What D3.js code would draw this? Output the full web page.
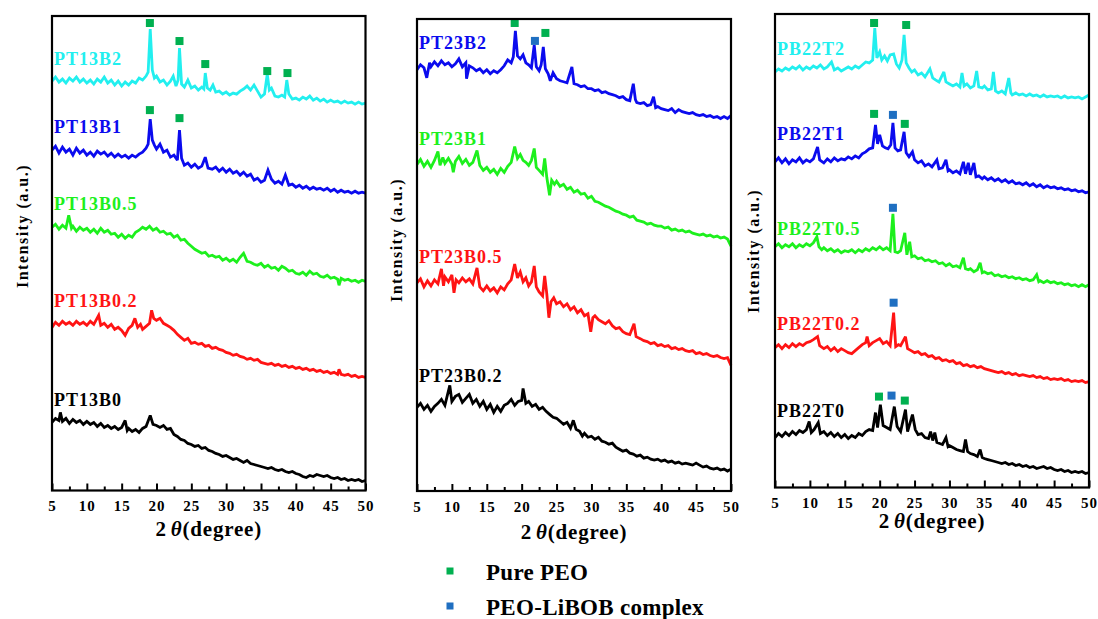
<!DOCTYPE html>
<html>
<head>
<meta charset="utf-8">
<script src="https://cdn.jsdelivr.net/npm/d3@7"></script>
<style>
  body { margin: 0; background: #fff; }
  text { font-family: "Liberation Serif", "Times New Roman", serif; font-weight: bold; }
</style>
</head>
<body>
<svg id="chart" width="1098" height="619"></svg>
<script>
// ---- XRD patterns: flat lists of (2θ, intensity a.u.) pairs ----
const PT13B2 = [5,409,5.5,413,6,408,6.5,411,7,407,7.5,412,8,409,8.5,413,9,408,9.5,411,10,407,10.5,410,11,406,11.5,411,12,408,12.5,413,13,407,13.5,410,14,405,14.5,409,15,404,15.5,408,16,405,16.5,409,17,407,17.5,412,18,410,18.5,414,18.8,418,19.1,461,19.4,420,19.7,412,20,414,20.5,408,21,410,21.5,405,22,409,22.4,414,22.8,404,23.1,410,23.3,442,23.6,406,24,403,24.5,410,25,402,25.5,404,26,400,26.5,403,26.8,401,27,417,27.3,402,27.7,400,28.1,405,28.5,398,29,399,29.5,396,30,398,30.5,395,31,397,31.5,396,32,399,32.5,401,33,404,33.5,400,34,405,34.5,399,35,393,35.5,396,35.9,416,36.2,400,36.5,402,37,394,37.5,393,38,395,38.4,393,38.7,410,39,396,39.5,391,40,392,40.5,390,41,393,41.5,391,42,394,42.5,390,43,392,43.5,389,44,391,44.5,388,45,390,45.5,388,46,389,46.5,387,47,389,47.5,387,48,388,48.5,386,49,388,49.5,386,50,387];
const PT13B1 = [5,340,5.5,344,6,337,6.5,343,7,338,7.5,341,8,335,8.5,342,9,337,9.5,340,10,335,10.5,338,11,334,11.5,339,12,336,12.5,338,13,334,13.5,337,14,333,14.5,336,15,333,15.5,335,16,332,16.5,335,17,333,17.5,336,18,338,18.5,342,18.8,346,19.1,371,19.4,350,19.7,345,20,341,20.5,346,21,338,21.5,340,22,333,22.5,335,23,330,23.3,360,23.6,332,24,325,24.5,327,25,323,25.5,326,26,322,26.5,324,27,333,27.4,322,28,321,28.5,323,29,319,29.5,322,30,318,30.5,321,31,317,31.5,319,32,315,32.5,318,33,314,33.5,316,34,310,34.5,312,35,308,35.5,310,36,320,36.5,311,37,307,37.5,309,38,306,38.5,315,39,305,39.5,306,40,303,40.5,305,41,302,41.5,304,42,301,42.5,303,43,301,43.5,302,44,300,44.5,302,45,299,45.5,301,46,298,46.5,300,47,298,47.5,299,48,297,48.5,299,49,297,49.5,298,50,297];
const PT13B05 = [5,263,5.5,266,6,261,6.5,265,7,262,7.4,275,7.8,262,8,264,8.5,259,9,263,9.5,260,10,262,10.5,258,11,261,11.5,257,12,262,12.5,258,13,260,13.5,256,14,257,14.5,253,15,256,15.5,252,16,255,16.5,253,17,258,17.5,260,18,263,18.5,261,19,264,19.5,260,20,262,20.5,258,21,259,21.5,256,22,257,22.5,253,23,255,23.5,250,24,251,24.5,247,25,244,25.5,241,26,239,26.5,237,27,238,27.5,234,28,235,28.5,233,29,234,29.5,230,30,232,30.5,229,31,231,31.5,228,32,233,32.5,237,33,229,33.5,228,34,226,34.5,225,35,227,35.5,223,36,225,36.5,222,37,223,37.5,220,38,224,38.5,222,39,219,39.5,220,40,217,40.5,216,41,218,41.5,215,42,219,42.5,216,43,217,43.5,214,44,213,44.5,215,45,212,45.5,213,46,211,46.2,205,46.5,212,47,210,47.5,211,48,209,48.5,210,49,208,49.5,210,50,209];
const PT13B02 = [5,163,5.5,168,6,165,6.5,169,7,166,7.5,168,8,165,8.5,169,9,166,9.5,168,10,165,10.5,169,11,166,11.7,175,12,165,12.5,167,13,163,13.5,166,14,161,14.5,163,15,160,15.5,155,16,162,16.5,165,16.9,172,17.3,163,17.7,166,18,161,18.5,164,19,167,19.3,180,19.6,172,20,170,20.5,172,21,167,21.5,165,22,163,22.5,160,23,156,23.5,153,24,150,24.5,152,25,147,25.5,148,26,146,26.5,147,27,144,27.5,145,28,142,28.5,143,29,141,29.5,140,30,138,30.5,137,31,135,31.5,136,32,134,32.5,133,33,131,33.5,132,34,130,34.5,131,35,128,35.5,127,36,126,36.5,127,37,125,37.5,126,38,124,38.5,125,39,123,39.5,124,40,122,40.5,123,41,121,41.5,122,42,120,42.5,121,43,119,43.5,120,44,118,44.5,119,45,117,45.5,118,46,116,46.2,121,46.5,116,47,115,47.5,116,48,114,48.5,115,49,113,49.5,114,50,113];
const PT13B0 = [5,68,5.5,72,6,70,6.2,78,6.5,69,7,72,7.5,67,8,71,8.5,68,9,70,9.5,66,10,69,10.5,66,11,68,11.5,64,12,67,12.5,63,13,65,13.5,62,14,64,14.5,61,15,63,15.5,70,15.8,60,16,62,16.5,59,17,61,17.5,58,18,62,18.5,64,19.1,75,19.5,66,20,65,20.5,63,21,65,21.5,61,22,62,22.5,56,23,54,23.5,51,24,50,24.5,47,25,46,25.5,44,26,45,26.5,42,27,43,27.5,40,28,39,28.5,37,29,36,29.5,34,30,35,30.5,33,31,31,31.5,32,32,30,32.5,28,33,30,33.5,27,34,26,34.5,25,35,24,35.5,23,36,22,36.5,23,37,21,37.5,20,38,21,38.5,19,39,18,39.5,19,40,17,40.5,16,41,14,41.5,13,42,15,42.5,14,43,16,43.5,15,44,14,44.5,15,45,13,45.5,12,46,13,46.5,11,47,12,47.5,10,48,11,48.5,10,49,11,49.5,9,50,10];

const PT23B2 = [5,423,5.5,428,6,425,6.4,415,6.8,430,7,426,7.5,431,8,427,8.5,432,9,428,9.5,430,10,426,10.5,429,11,434,11.5,426,12,430,12.1,414,12.5,427,13,425,13.5,422,14,424,14.5,420,15,423,15.5,419,16,422,16.5,420,17,423,17.5,427,18,433,18.5,430,18.8,436,19.1,462,19.4,437,19.8,434,20.2,438,20.6,430,21,428,21.4,425,21.8,448,22.1,426,22.5,422,22.8,428,23.1,446,23.4,424,23.8,419,24.1,412,24.5,420,25,414,25.5,412,26,411,26.5,410,27.2,426,27.5,409,28,408,28.5,406,29,407,29.5,404,30,404,30.5,402,31,403,31.5,400,32,401,32.5,399,33,398,33.5,397,34,395,34.5,396,35,393,35.5,392,36,409,36.3,393,36.5,390,37,389,37.5,390,38,387,38.5,388,38.9,396,39.2,385,39.5,386,40,384,40.5,383,41,382,41.5,384,42,380,42.5,383,43,381,43.5,380,44,379,44.5,380,45,378,45.5,377,46,378,46.5,376,47,377,47.5,375,48,376,48.5,374,49,376,49.5,374,50,377];
const PT23B1 = [5,328,5.5,333,6,326,6.5,331,7,325,7.5,332,8,341,8.3,327,8.7,335,9,329,9.5,334,10,328,10.2,320,10.5,331,11,336,11.5,329,12,333,12.5,327,13,330,13.6,342,14,327,14.5,322,15,325,15.5,320,16,323,16.5,318,17,324,17.5,320,18,326,18.5,330,19,346,19.4,334,19.8,338,20.2,332,20.6,330,21,327,21.4,332,21.8,344,22.1,325,22.5,322,23,318,23.3,334,23.6,315,24,297,24.3,312,24.7,308,25,311,25.5,306,26,308,26.5,303,27,305,27.5,300,28,302,28.5,298,29,299,29.5,294,30,296,30.5,291,31,290,31.5,288,32,286,32.5,285,33,283,33.5,281,34,280,34.5,278,35,277,35.5,275,36,276,36.5,272,37,271,37.5,270,38,268,38.5,269,39,267,39.5,266,40,266,40.5,264,41,265,41.5,262,42,263,42.5,261,43,262,43.5,260,44,261,44.5,259,45,258,45.5,257,46,258,46.5,256,47,257,47.5,255,48,256,48.5,254,49,255,49.5,253,50,246];
const PT23B05 = [5,209,5.5,213,6,205,6.5,211,7,206,7.5,212,8,208,8.5,223,8.8,206,9,215,9.5,210,10,217,10.3,199,10.6,212,11,209,11.5,214,12,210,12.5,213,13,208,13.6,224,14,205,14.5,201,15,206,15.5,201,16,204,16.5,199,17,205,17.5,202,18,208,18.5,212,19,228,19.4,214,19.8,220,20.2,210,20.6,214,21,206,21.4,210,21.8,226,22.1,205,22.5,200,23,196,23.3,216,23.6,198,23.9,174,24.2,190,24.6,194,25,188,25.5,190,26,185,26.5,188,27,182,27.5,185,28,179,28.5,182,29,176,29.5,178,29.9,160,30.2,174,30.5,176,31,172,31.5,170,32,168,32.5,171,33,166,33.5,163,34,164,34.5,160,35,158,35.5,157,36.1,168,36.4,155,37,153,37.5,151,38,150,38.5,148,39,149,39.5,146,40,147,40.5,145,41,146,41.5,143,42,144,42.5,142,43,143,43.5,141,44,140,44.5,141,45,138,45.5,139,46,137,46.5,138,47,136,47.5,135,48,136,48.5,134,49,133,49.5,134,50,126];
const PT23B02 = [5,84,5.5,88,6,82,6.5,86,7,80,7.5,85,8,88,8.5,92,9,86,9.7,106,10,90,10.5,95,11,97,11.5,89,12,93,12.5,97,13,88,13.5,92,14,85,14.5,90,15,82,15.5,87,16,79,16.5,85,17,80,17.5,86,18,88,18.5,92,19,86,19.5,90,20,91,20.2,103,20.6,88,21,90,21.5,85,22,87,22.5,82,23,84,23.5,80,24,77,24.5,74,25,73,25.5,70,26,67,26.5,69,27,63,27.4,71,27.8,62,28.3,60,28.7,55,29,58,29.5,54,30,55,30.5,52,31,54,31.5,50,32,49,32.5,47,33,48,33.5,44,34,42,34.5,40,35,41,35.5,38,36,37,36.5,35,37,36,37.5,33,38,34,38.5,32,39,31,39.5,32,40,30,40.5,31,41,29,41.5,30,42,28,42.5,29,43,27,43.5,28,44,27,44.5,26,45,28,45.5,26,46,24,46.5,25,47,23,47.5,22,48,23,48.5,21,49,22,49.5,20,50,22];

const PB22T2 = [5,416,5.5,419,6,417,6.5,420,7,418,7.5,421,8,419,8.5,422,9,418,9.5,421,10,419,10.5,422,11,420,11.5,423,12,419,12.5,421,13.1,426,13.5,418,14,420,14.5,417,15,419,15.5,421,16,419,16.5,422,17,420,17.5,423,18,426,18.5,425,19,428,19.3,460,19.6,430,20,436,20.3,428,20.7,432,21.1,427,21.5,433,22,434,22.4,424,22.8,420,23.2,428,23.5,453,23.8,425,24.2,420,24.6,416,25,418,25.5,413,26,415,26.5,411,27.2,419,27.6,410,28,408,28.5,406,29.2,416,29.5,406,30,404,30.5,402,31,404,31.5,401,31.8,415,32.1,402,32.5,404,33,400,33.5,402,33.9,417,34.2,401,34.7,400,35,402,35.5,398,36,399,36.3,416,36.6,397,37,395,37.5,397,38,394,38.5,410,38.8,395,39,393,39.5,395,40,393,40.5,394,41,392,41.5,394,42,392,42.5,393,43,391,43.5,393,44,391,44.5,392,45,391,45.5,392,46,390,46.5,392,47,390,47.5,391,48,390,48.5,391,49,389,49.5,391,50,393];
const PB22T1 = [5,326,5.5,330,6,325,6.5,329,7,324,7.5,328,8,326,8.5,330,9,325,9.5,328,10,326,10.5,329,11.1,341,11.4,328,12,325,12.5,329,13,326,13.5,330,14,327,14.5,329,15,328,15.5,331,16,329,16.5,332,17,330,17.5,334,18,336,18.5,339,19,340,19.4,363,19.7,344,20,353,20.4,342,20.8,340,21.2,339,21.6,343,21.9,365,22.2,340,22.6,337,23,338,23.5,356,23.8,335,24.2,331,24.7,336,25,328,25.5,325,26,327,26.5,322,27,324,27.5,321,28.2,328,28.5,319,29,320,29.5,328,29.8,317,30,318,30.5,315,31,317,31.5,314,32,326,32.3,314,32.7,325,33,313,33.5,325,33.8,311,34.2,312,34.7,309,35,311,35.5,308,36,310,36.5,307,37,309,37.5,306,38,308,38.5,305,39,307,39.5,304,40,305,40.5,303,41,305,41.5,302,42,304,42.5,301,43,303,43.5,300,44,302,44.5,300,45,301,45.5,299,46,300,46.5,298,47,299,47.5,297,48,298,48.5,296,49,297,49.5,295,50,296];
const PB22T05 = [5,241,5.5,244,6,240,6.5,243,7,241,7.5,244,8,240,8.5,243,9,241,9.5,244,10,242,10.5,245,11,251,11.3,241,11.7,238,12,240,12.5,237,13,239,13.5,236,14,238,14.5,235,15,237,15.5,236,16,238,16.5,235,17,238,17.5,236,18,239,18.5,237,19,240,19.5,238,20,241,20.5,238,21,240,21.5,237,21.9,274,22.2,236,22.6,235,23,237,23.6,255,23.9,233,24.3,246,24.6,231,25,232,25.5,229,26,230,26.5,227,27,228,27.5,226,28,227,28.5,224,29,225,29.5,222,30,224,30.5,221,31,222,31.5,220,32,230,32.3,219,32.7,218,33,219,33.5,216,34,218,34.4,225,34.7,215,35,216,35.5,214,36,215,36.5,212,37,213,37.5,211,38,212,38.5,210,39,211,39.5,209,40,210,40.5,208,41,209,41.5,207,42,208,42.5,213,42.8,206,43,207,43.5,205,44,207,44.5,205,45,206,45.5,204,46,205,46.5,203,47,204,47.5,202,48,203,48.5,201,49,203,49.5,201,50,203];
const PB22T02 = [5,140,5.5,143,6,139,6.5,143,7,140,7.5,144,8,141,8.5,144,9,142,9.5,145,10,146,10.5,148,11.1,151,11.4,142,12,139,12.5,141,13,137,13.5,140,14,136,14.5,139,15,137,15.5,135,16,134,16.5,137,17,140,17.5,143,18,145,18.2,151,18.5,142,19,145,19.5,147,20,149,20.5,144,21,146,21.5,142,22,175,22.3,141,22.7,143,23,142,23.7,151,24,139,24.5,137,25,135,25.5,136,26,133,26.5,134,27,131,27.5,132,28,129,28.5,130,29,127,29.5,128,30,126,30.5,127,31,124,31.5,125,32,122,32.5,123,33,121,33.5,122,34,120,34.5,121,35,119,35.5,118,36,117,36.5,116,37,115,37.5,116,38,114,38.5,115,39,113,39.5,114,40,112,40.5,113,41,112,41.5,111,42,112,42.5,110,43,111,43.5,109,44,110,44.5,108,45,109,45.5,108,46,109,46.5,107,47,108,47.5,106,48,107,48.5,106,49,107,49.5,105,50,106];
const PB22T0 = [5,50,5.5,54,6,51,6.5,55,7,52,7.5,56,8,53,8.5,57,9,55,9.5,58,9.9,66,10.2,55,10.6,58,11.2,65,11.5,54,12,56,12.5,52,13,55,13.5,51,14,54,14.5,50,15,53,15.5,49,16,52,16.5,50,17,54,17.5,52,18,56,18.5,58,19,57,19.4,75,19.7,60,20.1,83,20.5,62,21,60,21.5,58,22.1,81,22.5,61,23,56,23.7,78,24,56,24.7,73,25.1,58,25.5,53,26,54,26.5,50,27,49,27.3,56,27.6,47,27.9,55,28.2,45,28.6,44,29,43,29.5,50,29.8,41,30,42,30.5,40,31,38,31.5,37,32,36,32.3,48,32.6,36,33,34,33.5,33,34,31,34.4,38,34.7,30,35,29,35.5,28,36,27,36.5,26,37,25,37.5,24,38,25,38.5,23,39,24,39.5,22,40,23,40.5,21,41,22,41.5,20,42,21,42.5,19,43,20,43.5,21,44,19,44.5,20,45,18,45.5,17,46,18,46.5,16,47,17,47.5,15,48,16,48.5,15,49,16,49.5,14,50,15];

// ---- Peak assignments: [2θ, level, phase] ----
const PT13B2_peaks = [[19.05,467,"PEO"],[23.3,449,"PEO"],[27.0,426,"PEO"],[35.9,419,"PEO"],[38.8,417,"PEO"]];
const PT13B1_peaks = [[19.05,380,"PEO"],[23.3,372,"PEO"]];
const PT23B2_peaks = [[19.0,470,"PEO"],[21.9,452,"LiBOB"],[23.4,460,"PEO"]];
const PB22T2_peaks = [[19.2,465,"PEO"],[23.8,463,"PEO"]];
const PB22T1_peaks = [[19.2,374,"PEO"],[21.9,373,"LiBOB"],[23.6,364,"PEO"]];
const PB22T05_peaks = [[21.9,280,"LiBOB"]];
const PB22T02_peaks = [[22.0,185,"LiBOB"]];
const PB22T0_peaks = [[19.9,91,"PEO"],[21.7,92,"LiBOB"],[23.6,87,"PEO"]];

const sampleNames = [
  ["PT13B2","PT13B1","PT13B0.5","PT13B0.2","PT13B0"],
  ["PT23B2","PT23B1","PT23B0.5","PT23B0.2"],
  ["PB22T2","PB22T1","PB22T0.5","PB22T0.2","PB22T0"]
];
const sampleData = [
  [PT13B2, PT13B1, PT13B05, PT13B02, PT13B0],
  [PT23B2, PT23B1, PT23B05, PT23B02],
  [PB22T2, PB22T1, PB22T05, PB22T02, PB22T0]
];
const samplePeaks = [
  [PT13B2_peaks, PT13B1_peaks, [], [], []],
  [PT23B2_peaks, [], [], []],
  [PB22T2_peaks, PB22T1_peaks, PB22T05_peaks, PB22T02_peaks, PB22T0_peaks]
];
const majorTicks = [5,10,15,20,25,30,35,40,45,50];
const minorTicks = [7.5,12.5,17.5,22.5,27.5,32.5,37.5,42.5,47.5];
const legendLabels = ["Pure PEO", "PEO-LiBOB complex"];
const legendPhases = ["PEO", "LiBOB"];

// ---- Styling and layout ----
const phaseColor = { PEO: "#00B050", LiBOB: "#1F6FC1" };
const panelColors = [
  ["#22EFEF","#0B0BEE","#1DF01D","#FF1414","#000000"],
  ["#0B0BEE","#1DF01D","#FF1414","#000000"],
  ["#22EFEF","#0B0BEE","#1DF01D","#FF1414","#000000"]
];
const panels = [
  { left: 52,  right: 365.5, top: 16, bottom: 490.5, labelLevels: [425,357,280,183,84],  titleY: 536, yTitleX: 28,  yTitleY: 226 },
  { left: 417, right: 731,   top: 19, bottom: 491,   labelLevels: [444,347,229,109],     titleY: 539, yTitleX: 402, yTitleY: 240 },
  { left: 775, right: 1089,  top: 14, bottom: 487.5, labelLevels: [433,348,253,158,71],  titleY: 528, yTitleX: 759, yTitleY: 251 }
];
const intensityDomain = [0, 474];

const svg = d3.select("#chart");

function toPairs(flat) {
  const out = [];
  for (let i = 0; i < flat.length; i += 2) out.push([flat[i], flat[i + 1]]);
  return out;
}

panels.forEach((p, pi) => {
  const x = d3.scaleLinear().domain([5, 50]).range([p.left, p.right]);
  const y = d3.scaleLinear().domain(intensityDomain).range([p.bottom, p.top]);
  const g = svg.append("g");

  const line = d3.line().x(d => x(d[0])).y(d => y(d[1]));

  sampleData[pi].forEach((flat, si) => {
    g.append("path")
      .datum(toPairs(flat))
      .attr("d", line)
      .attr("fill", "none")
      .attr("stroke", panelColors[pi][si])
      .attr("stroke-width", 2.8)
      .attr("stroke-linejoin", "miter")
      .attr("stroke-miterlimit", 3);

    g.append("text")
      .attr("x", p.left + 2)
      .attr("y", y(p.labelLevels[si]))
      .attr("fill", panelColors[pi][si])
      .style("font-size", "18px")
      .style("letter-spacing", "1px")
      .text(sampleNames[pi][si]);

    g.selectAll(null)
      .data(samplePeaks[pi][si])
      .join("rect")
      .attr("x", d => x(d[0]) - 4)
      .attr("y", d => y(d[1]) - 4)
      .attr("width", 8)
      .attr("height", 8)
      .attr("fill", d => phaseColor[d[2]]);
  });

  // ticks pointing inward
  const axisG = g.append("g").attr("transform", `translate(0,${p.bottom})`);
  axisG.call(d3.axisBottom(x).tickValues(minorTicks).tickSize(-4).tickFormat(""));
  const majorG = g.append("g").attr("transform", `translate(0,${p.bottom})`);
  majorG.call(d3.axisBottom(x).tickValues(majorTicks).tickSize(-7).tickPadding(10).tickFormat(d3.format("d")));
  [axisG, majorG].forEach(a => {
    a.select(".domain").remove();
    a.selectAll("line").attr("stroke", "#000").attr("stroke-width", 2);
  });
  majorG.selectAll("text")
    .attr("fill", "#000")
    .style("font-size", "15px")
    .style("letter-spacing", "1px")
    .style("font-family", '"Liberation Serif", "Times New Roman", serif')
    .style("font-weight", "bold");

  // frame
  g.append("rect")
    .attr("x", p.left).attr("y", p.top)
    .attr("width", p.right - p.left).attr("height", p.bottom - p.top)
    .attr("fill", "none").attr("stroke", "#000").attr("stroke-width", 2.2);

  // axis titles
  const xt = g.append("text")
    .attr("x", (p.left + p.right) / 2)
    .attr("y", p.titleY)
    .attr("text-anchor", "middle")
    .style("font-size", "21px")
    .style("letter-spacing", "0.8px");
  xt.append("tspan").text("2");
  xt.append("tspan").attr("dx", 4).style("font-style", "italic").text("θ");
  xt.append("tspan").text("(degree)");

  g.append("text")
    .attr("transform", `translate(${p.yTitleX},${p.yTitleY}) rotate(-90)`)
    .attr("text-anchor", "middle")
    .style("font-size", "16px")
    .style("letter-spacing", "1.5px")
    .text("Intensity (a.u.)");
});

// legend
const legend = svg.append("g");
legendLabels.forEach((lab, i) => {
  legend.append("rect")
    .attr("x", 446.5).attr("y", 567.5 + i * 35)
    .attr("width", 7).attr("height", 7)
    .attr("fill", phaseColor[legendPhases[i]]);
  legend.append("text")
    .attr("x", 486).attr("y", 580 + i * 35)
    .style("font-size", "23px")
    .style("letter-spacing", "0.3px")
    .text(lab);
});
</script>
</body>
</html>
